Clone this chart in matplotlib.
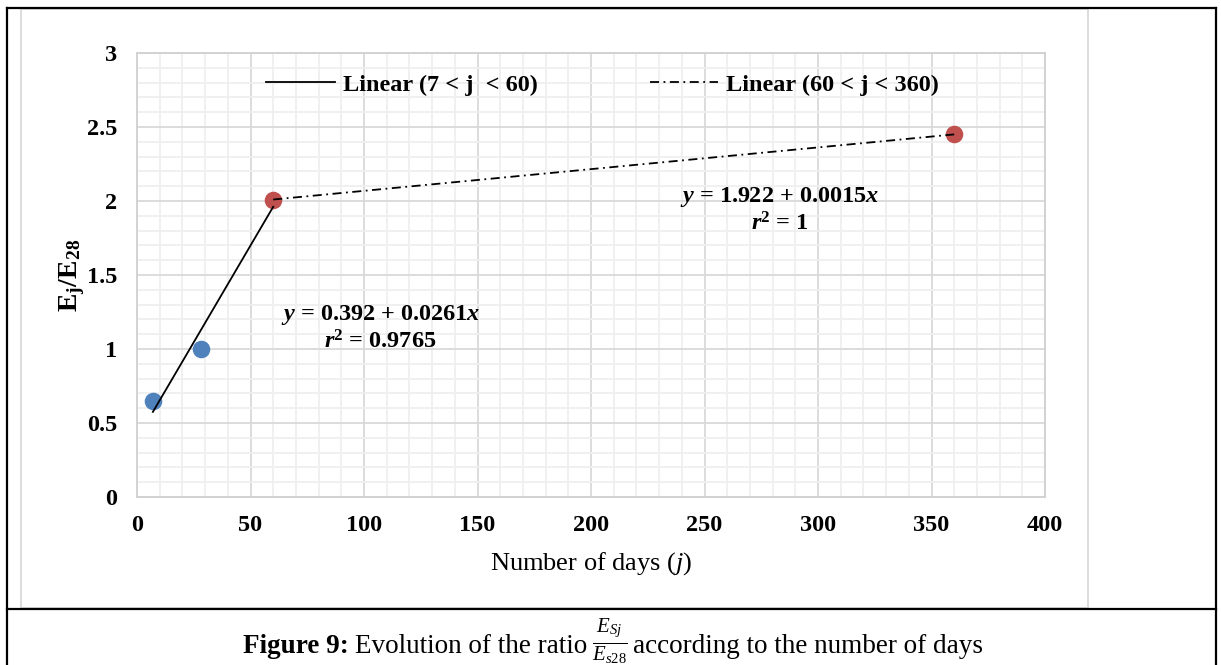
import matplotlib.pyplot as plt
import numpy as np
from matplotlib.lines import Line2D
from matplotlib.patches import Rectangle

plt.rcParams['font.family'] = ['Liberation Serif', 'DejaVu Serif']
plt.rcParams['mathtext.fontset'] = 'custom'
plt.rcParams['mathtext.rm'] = 'Liberation Serif'
plt.rcParams['mathtext.it'] = 'Liberation Serif:italic'
plt.rcParams['mathtext.bf'] = 'Liberation Serif:bold'
plt.rcParams['mathtext.bfit'] = 'Liberation Serif:bold:italic'

# data
days_early = [7, 28]
ratio_early = [0.65, 1.00]
days_late = [60, 360]
ratio_late = [2.01, 2.45]

blue = '#4f81bd'
red = '#c0504d'

W, H = 1221, 665
fig = plt.figure(figsize=(W / 100, H / 100), dpi=100)

def fx(px):
    return px / W

def fy(py):
    return 1 - py / H

ax = fig.add_axes([fx(137), fy(497), fx(1045) - fx(137), fy(53) - fy(497)])

# trendlines (least squares, like excel)
x1 = np.array(days_early + days_late[:1], dtype=float)
y1 = np.array(ratio_early + ratio_late[:1], dtype=float)
b1, a1 = np.polyfit(x1, y1, 1)
x2 = np.array(days_late, dtype=float)
y2 = np.array(ratio_late, dtype=float)
b2, a2 = np.polyfit(x2, y2, 1)

ax.scatter(days_early, ratio_early, s=160, color=blue, zorder=3, linewidths=0)
ax.scatter(days_late, ratio_late, s=160, color=red, zorder=3, linewidths=0)

t1 = np.array([x1.min(), x1.max()])
l1, = ax.plot(t1, a1 + b1 * t1, color='black', lw=1.3, zorder=4,
              label='Linear (7 < j  < 60)')
t2 = np.array([x2.min(), x2.max()])
l2, = ax.plot(t2, a2 + b2 * t2, color='black', lw=1.3, zorder=4,
              dashes=(5, 2.5, 1, 2.5), label='Linear (60 < j < 360)')

ax.set_xlim(0, 400)
ax.set_ylim(0, 3)
ax.set_xticks(np.arange(0, 401, 50))
ax.set_yticks(np.arange(0, 3.01, 0.5))
ax.set_xticks(np.arange(0, 401, 10), minor=True)
ax.set_yticks(np.arange(0, 3.01, 0.1), minor=True)
ax.set_yticklabels(['0', '0.5', '1', '1.5', '2', '2.5', '3'])
ax.grid(which='major', color='#d9d9d9', lw=1.3)
ax.grid(which='minor', color='#efefef', lw=1.3)
ax.set_axisbelow(True)
for s in ax.spines.values():
    s.set_color('#d0d0d0')
    s.set_linewidth(1.3)
ax.tick_params(which='both', length=0)
ax.tick_params(axis='x', pad=13)
ax.tick_params(axis='y', pad=14)
for lab in ax.get_xticklabels() + ax.get_yticklabels():
    lab.set_fontsize(17.5)
    lab.set_fontweight('bold')

ax.set_xlabel('Number of days ($j$)', fontsize=19, labelpad=10)
ax.set_ylabel(r'$\mathbf{E_j/E_{28}}$', fontsize=20, labelpad=0)

ax.legend(handles=[l1, l2], ncol=2, loc='center', bbox_to_anchor=(0.513, 0.928),
          frameon=False, prop={'weight': 'bold', 'size': 17.5}, handlelength=2.8,
          handletextpad=0.35, columnspacing=4.6)

eq = dict(transform=ax.transAxes, ha='center', va='center', fontsize=17.5,
          fontweight='bold')
ax.text(0.268, 0.411, r'$\boldsymbol{y}$ = 0.392 + 0.0261$\boldsymbol{x}$', **eq)
ax.text(0.268, 0.350, r'$\boldsymbol{r}^{\mathbf{2}}$ = 0.9765', **eq)
ax.text(0.708, 0.676, r'$\boldsymbol{y}$ = 1.922 + 0.0015$\boldsymbol{x}$', **eq)
ax.text(0.708, 0.615, r'$\boldsymbol{r}^{\mathbf{2}}$ = 1', **eq)

# chart frame and table borders
fig.add_artist(Rectangle((fx(21), fy(608)), fx(1088) - fx(21), fy(9) - fy(608),
                         transform=fig.transFigure, fill=False, ec='#d9d9d9', lw=1.3))
fig.add_artist(Line2D([fx(7), fx(7)], [0, fy(8)], color='black', lw=1.6))
fig.add_artist(Line2D([fx(1216), fx(1216)], [0, fy(8)], color='black', lw=1.6))
fig.add_artist(Line2D([fx(7), fx(1216)], [fy(8), fy(8)], color='black', lw=1.6))
fig.add_artist(Line2D([fx(7), fx(1216)], [fy(609), fy(609)], color='black', lw=1.6))

# caption, pieces laid out one after another
base = fy(653)
pieces = [('Figure 9:', dict(fontsize=19.5, fontweight='bold'), 6),
          ('Evolution of the ratio', dict(fontsize=19.5), 5),
          (r'$\frac{E_{Sj}}{E_{s28}}$', dict(fontsize=21.5), 5),
          ('according to the number of days', dict(fontsize=19.5), 0)]
renderer = fig.canvas.get_renderer()
xpos = 243
for txt, kw, gap in pieces:
    t = fig.text(fx(xpos), base, txt, ha='left', va='baseline', **kw)
    bb = t.get_window_extent(renderer)
    xpos += bb.width + gap

fig.savefig('out.png', dpi=100)
